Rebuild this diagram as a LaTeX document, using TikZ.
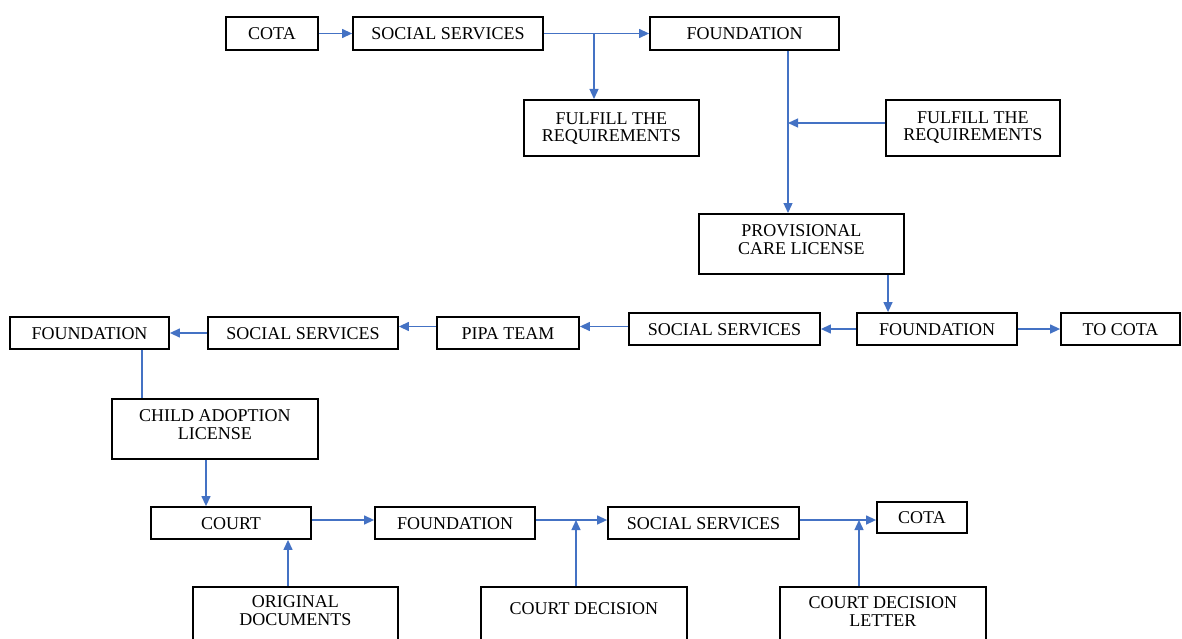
\documentclass[tikz,border=0pt]{standalone}
\usepackage{fontspec}
\setmainfont{Liberation Serif}
\usetikzlibrary{arrows.meta}
\definecolor{lnk}{HTML}{4472C4}
\begin{document}
\begin{tikzpicture}[x=1pt,y=-1pt,
  box/.style={draw=black, line width=1.8pt, inner sep=0pt,
    font=\fontsize{18}{17.5}\selectfont, text height=12pt, text depth=0pt},
  tbox/.style={box, anchor=north west},
  conn/.style={draw=lnk, line width=1.3pt},
  arr/.style={conn, -{Triangle[length=10pt,width=9pt]}}]
\useasboundingbox (0,0) rectangle (1182,639);
\clip (0,0) rectangle (1182,639);

% top row
\node[box, minimum width=92pt, minimum height=33pt] (cota1) at (272,33.5) {COTA};
\node[box, minimum width=190pt, minimum height=33pt] (ss1) at (448,33.5) {SOCIAL SERVICES};
\node[box, minimum width=189pt, minimum height=33pt] (f1) at (744.5,33.5) {FOUNDATION};
\node[tbox, minimum width=175pt, text height=24.3pt, text depth=31.7pt] (ful1) at (523,99)
  {\begin{tabular}[t]{@{}c@{}}FULFILL THE\\REQUIREMENTS\end{tabular}};
\node[tbox, minimum width=174pt, text height=23.3pt, text depth=32.7pt] (ful2) at (885,99)
  {\begin{tabular}[t]{@{}c@{}}FULFILL THE\\REQUIREMENTS\end{tabular}};
\node[tbox, minimum width=205pt, text height=22.7pt, text depth=37.3pt] (prov) at (698,213)
  {\begin{tabular}[t]{@{}c@{}}PROVISIONAL\\CARE LICENSE\end{tabular}};

% middle row
\node[box, minimum width=160pt, minimum height=32pt] (f2) at (937,329) {FOUNDATION};
\node[box, minimum width=119pt, minimum height=32pt] (tocota) at (1120.5,329) {TO COTA};
\node[box, minimum width=191pt, minimum height=32pt] (ss3) at (724.5,329) {SOCIAL SERVICES};
\node[box, minimum width=142pt, minimum height=32pt] (pipa) at (508,333) {PIPA TEAM};
\node[box, minimum width=190pt, minimum height=32pt] (ss2) at (303,333) {SOCIAL SERVICES};
\node[box, minimum width=159pt, minimum height=32pt] (f3) at (89.5,333) {FOUNDATION};
\node[tbox, minimum width=206pt, text height=22.7pt, text depth=37.3pt] (child) at (111,398)
  {\begin{tabular}[t]{@{}c@{}}CHILD ADOPTION\\LICENSE\end{tabular}};

% bottom row
\node[box, minimum width=160pt, minimum height=32pt] (court) at (231,523) {COURT};
\node[box, minimum width=160pt, minimum height=32pt] (f4) at (455,523) {FOUNDATION};
\node[box, minimum width=191pt, minimum height=32pt] (ss4) at (703.5,523) {SOCIAL SERVICES};
\node[box, minimum width=90pt, minimum height=31pt] (cota2) at (922,517.5) {COTA};
\node[tbox, minimum width=205pt, text height=21pt, text depth=53pt] (orig) at (192,586)
  {\begin{tabular}[t]{@{}c@{}}ORIGINAL\\DOCUMENTS\end{tabular}};
\node[tbox, minimum width=206pt, text height=28pt, text depth=46pt] (cdec) at (480,586)
  {COURT DECISION};
\node[tbox, minimum width=206pt, text height=22pt, text depth=52pt] (cdl) at (779,586)
  {\begin{tabular}[t]{@{}c@{}}COURT DECISION\\LETTER\end{tabular}};

% helper coordinates
\coordinate (j1) at (594,33.5);
\coordinate (j2) at (788,123);
\coordinate (j3) at (888,290);
\coordinate (r2) at (0,326.5);
\coordinate (j4) at (142,380);
\coordinate (j5) at (206,480);
\coordinate (r3) at (0,520);
\coordinate (j6) at (576,520);
\coordinate (j7) at (859,520);
\coordinate (j8) at (288,560);

% connectors
\draw[arr] (cota1.east) -- (ss1.west);
\draw[arr] (ss1.east) -- (f1.west);
\draw[arr] (j1) -- (j1 |- ful1.north);
\draw[arr] (f1.south -| j2) -- (prov.north -| j2);
\draw[arr] (ful2.west |- j2) -- (j2);
\draw[arr] (prov.south -| j3) -- (f2.north -| j3);
\draw[arr] (f2.west) -- (ss3.east);
\draw[arr] (f2.east) -- (tocota.west);
\draw[arr] (ss3.west |- r2) -- (pipa.east |- r2);
\draw[arr] (pipa.west |- r2) -- (ss2.east |- r2);
\draw[arr] (ss2.west) -- (f3.east);
\draw[conn] (f3.south -| j4) -- (child.north -| j4);
\draw[arr] (child.south -| j5) -- (court.north -| j5);
\draw[arr] (court.east |- r3) -- (f4.west |- r3);
\draw[arr] (f4.east |- r3) -- (ss4.west |- r3);
\draw[arr] (cdec.north -| j6) -- (j6);
\draw[arr] (ss4.east |- r3) -- (cota2.west |- r3);
\draw[arr] (cdl.north -| j7) -- (j7);
\draw[arr] (orig.north -| j8) -- (court.south -| j8);
\end{tikzpicture}
\end{document}
